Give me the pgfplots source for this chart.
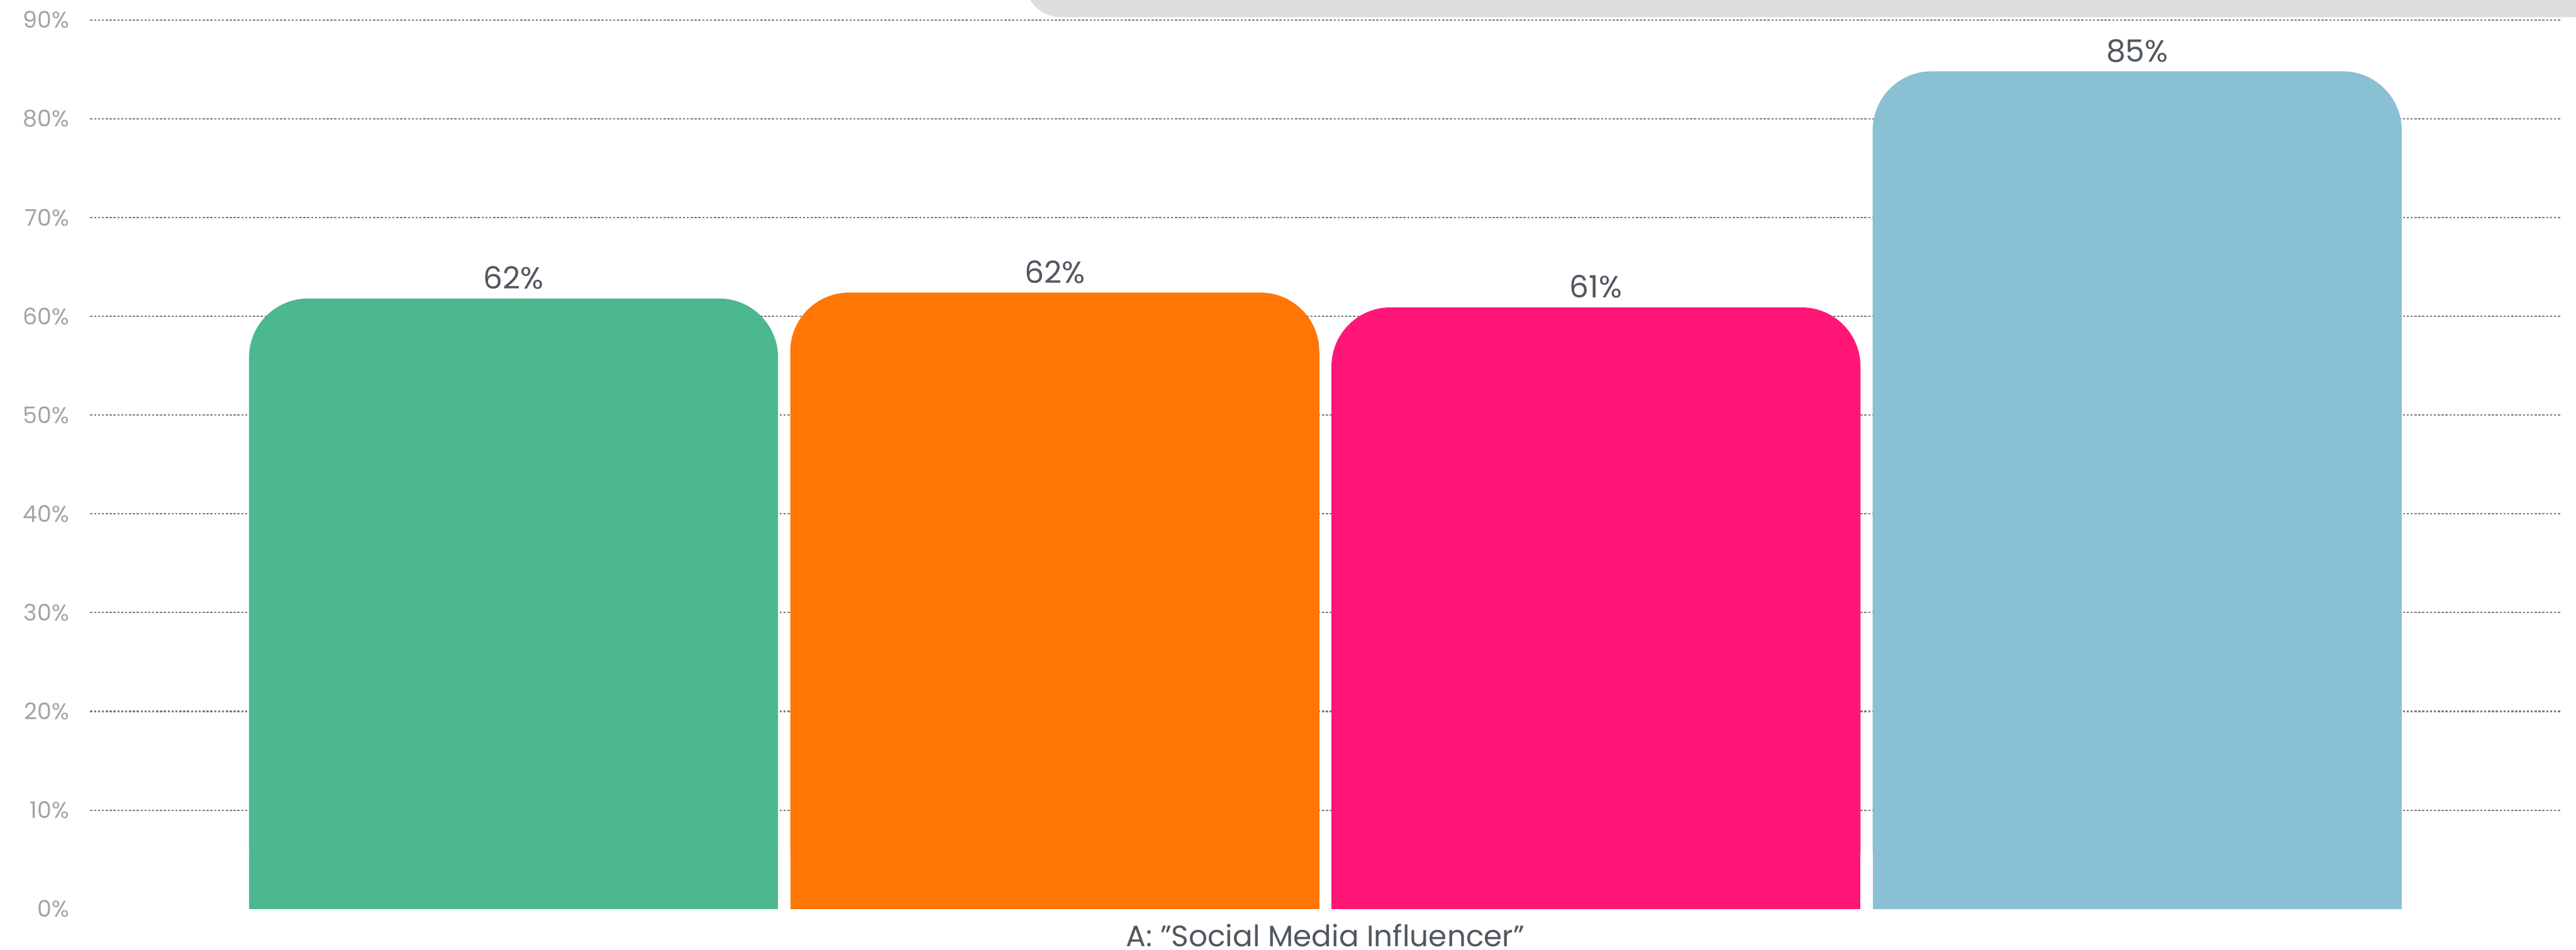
\documentclass[border=0pt]{standalone}
\usepackage{pgfplots}
\pgfplotsset{compat=1.18}
\usepackage{pgfplotstable}
\usepackage{fontspec}
\setmainfont{Poppins}
\definecolor{cgreen}{HTML}{4BB98D}
\definecolor{corange}{HTML}{FF7604}
\definecolor{cpink}{HTML}{FF1677}
\definecolor{cblue}{HTML}{89C0D4}
\definecolor{ticklab}{HTML}{A3A3A3}
\definecolor{darklab}{HTML}{51575E}
\definecolor{gridc}{HTML}{7A7A7A}
\definecolor{boxc}{HTML}{DCDDDF}
\pgfplotstableread{
x green orange pink blue
0 61.8 62.4 60.9 84.8
}\datatable
\begin{document}
\begin{tikzpicture}
\path[use as bounding box] (0,0) rectangle (698.25pt,257.55pt);
\fill[boxc, rounded corners=9.45pt] (277.95pt,252.9pt) rectangle (760pt,320pt);
\begin{axis}[
  at={(24.45pt,11.1pt)}, anchor=south west,
  scale only axis, width=669.6pt, height=241.05pt,
  xmin=-0.5, xmax=0.5, ymin=0, ymax=90,
  axis line style={draw=none},
  /pgf/number format/assume math mode=true,
  ybar, bar width=143.4pt,
  xtick={0}, xticklabels={A: "Social Media Influencer"},
  xticklabel style={font=\fontsize{8}{9}\selectfont, text=darklab, anchor=base, inner sep=0pt, text depth=0pt, yshift=-5.9pt},
  ytick={10,20,30,40,50,60,70,80,90},
  yticklabels={10\%,20\%,30\%,40\%,50\%,60\%,70\%,80\%,90\%},
  extra y ticks={0}, extra y tick labels={0\%},
  extra y tick style={grid=none},
  yticklabel style={font=\fontsize{6.2}{7}\selectfont, text=ticklab, anchor=east, inner sep=0pt, xshift=-5.55pt},
  ymajorgrids,
  major grid style={gridc, line width=0.35pt, dash pattern=on 0.6pt off 0.45pt},
  tick style={draw=none},
  every node near coord/.append style={font=\fontsize{8.3}{9}\selectfont, text=darklab, anchor=base, inner sep=0pt, yshift=2.55pt},
  nodes near coords={\pgfmathprintnumber[fixed,precision=0,assume math mode=true]{\pgfplotspointmeta}\%},
]
\addplot[bar shift=-220.05pt, fill=cgreen, draw=none, rounded corners=16pt] table[x=x,y=green]{\datatable};
\addplot[bar shift=-220.05pt, fill=cgreen, draw=none, nodes near coords={}] table[x=x,y expr=\thisrow{green}-8]{\datatable};
\addplot[bar shift=-73.35pt, fill=corange, draw=none, rounded corners=16pt] table[x=x,y=orange]{\datatable};
\addplot[bar shift=-73.35pt, fill=corange, draw=none, nodes near coords={}] table[x=x,y expr=\thisrow{orange}-8]{\datatable};
\addplot[bar shift=73.35pt, fill=cpink, draw=none, rounded corners=16pt] table[x=x,y=pink]{\datatable};
\addplot[bar shift=73.35pt, fill=cpink, draw=none, nodes near coords={}] table[x=x,y expr=\thisrow{pink}-8]{\datatable};
\addplot[bar shift=220.05pt, fill=cblue, draw=none, rounded corners=16pt] table[x=x,y=blue]{\datatable};
\addplot[bar shift=220.05pt, fill=cblue, draw=none, nodes near coords={}] table[x=x,y expr=\thisrow{blue}-8]{\datatable};
\end{axis}
\end{tikzpicture}
\end{document}
